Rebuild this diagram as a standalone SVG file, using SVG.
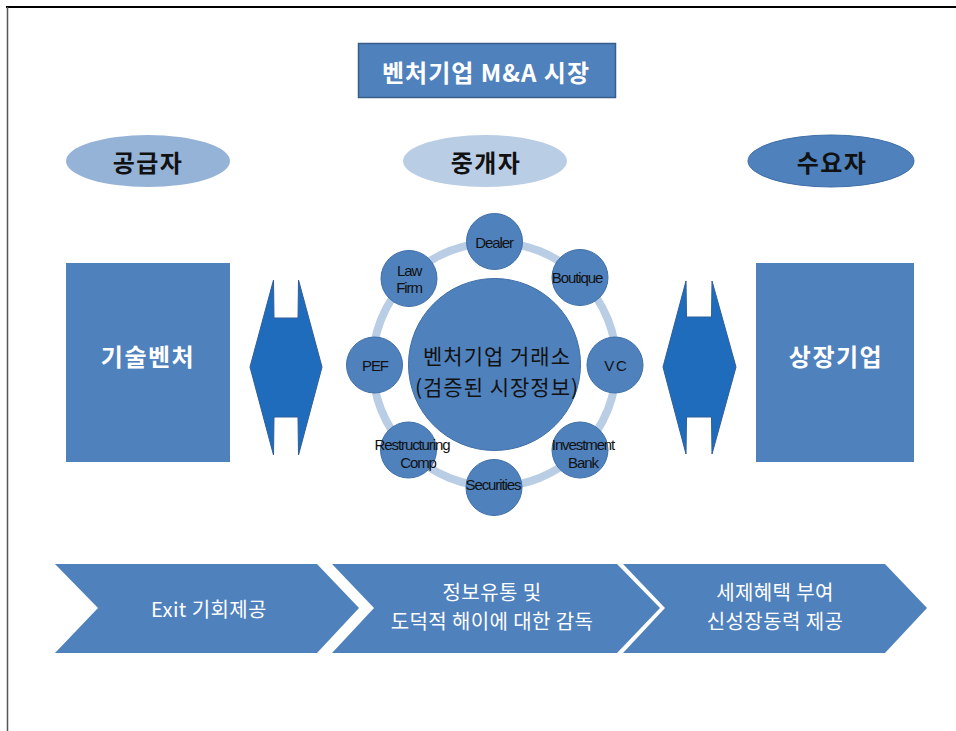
<svg xmlns="http://www.w3.org/2000/svg" width="956" height="731" viewBox="0 0 956 731">
<style>
.ko{font-family:"Noto Sans CJK KR","Noto Sans",sans-serif}
.w{fill:#ffffff}
.k{fill:#111111}
.hb{font-weight:bold;font-size:24px;letter-spacing:1.5px}
.blue{fill:#4F81BD;stroke:#3E6EA8;stroke-width:1}
.sm{font-family:"Liberation Sans",Arial,sans-serif;font-size:15px;letter-spacing:-1.1px;fill:#111}
.dbl{fill:#1F6CBC;stroke:#2E5E9A;stroke-width:1}
.chev{fill:#4F81BD}
.ct{font-size:20px;letter-spacing:0.4px}
</style>
<rect width="956" height="731" fill="#ffffff"/>
<line x1="6" y1="7" x2="956" y2="7" stroke="#000" stroke-width="2"/>
<line x1="7.5" y1="7" x2="7.5" y2="731" stroke="#555" stroke-width="1.5"/>

<g id="title">
<rect x="358.5" y="43.5" width="257" height="54" fill="#4F81BD" stroke="#385D8A" stroke-width="1.5"/>
<text x="486" y="71" class="ko w" font-size="24" font-weight="bold" text-anchor="middle" dominant-baseline="central" letter-spacing="1">벤처기업 M&amp;A 시장</text>
</g>

<g id="supplier-label">
<ellipse cx="148" cy="161" rx="82" ry="26" fill="#95B3D7"/>
<text x="148" y="161" class="ko k hb" text-anchor="middle" dominant-baseline="central">공급자</text>
</g>
<g id="broker-label">
<ellipse cx="485" cy="161" rx="82" ry="26" fill="#B9CDE5"/>
<text x="486" y="161" class="ko k hb" text-anchor="middle" dominant-baseline="central">중개자</text>
</g>
<g id="buyer-label">
<ellipse cx="831" cy="161" rx="83" ry="26" fill="#4F81BD" stroke="#3E6EA8" stroke-width="1"/>
<text x="832" y="161" class="ko k hb" text-anchor="middle" dominant-baseline="central">수요자</text>
</g>

<g id="tech-venture">
<rect x="66" y="263" width="164" height="199" fill="#4F81BD"/>
<text x="148" y="355" class="ko w hb" text-anchor="middle" dominant-baseline="central">기술벤처</text>
</g>
<g id="listed-company">
<rect x="756" y="263" width="158" height="199" fill="#4F81BD"/>
<text x="836" y="355" class="ko w hb" text-anchor="middle" dominant-baseline="central">상장기업</text>
</g>

<g id="connectors">
<circle cx="494.5" cy="364.5" r="122" fill="none" stroke="#B9CDE5" stroke-width="8"/>
<polygon class="dbl" points="273.5,280 274,318 298,318 298.5,280 322,367 298.5,455 298,417 274,417 273.5,455 250,367"/>
<polygon class="dbl" points="686,281 686.5,317 711.5,317 712,281 736,367 712,454 711.5,417 686.5,417 686,454 663,367"/>
</g>

<g id="exchange">
<circle cx="494.5" cy="364.5" r="86" class="blue"/>
<text x="497" y="355" class="ko k" font-size="21" letter-spacing="1" text-anchor="middle" dominant-baseline="central">벤처기업 거래소</text>
<text x="497" y="386" class="ko k" font-size="21" letter-spacing="1" text-anchor="middle" dominant-baseline="central">(검증된 시장정보)</text>
</g>

<g id="dealer">
<circle cx="494.5" cy="241.5" r="28" class="blue"/>
<text x="494" y="242" class="sm" text-anchor="middle" dominant-baseline="central">Dealer</text>
</g>
<g id="boutique">
<circle cx="580" cy="277.5" r="28" class="blue"/>
<text x="577" y="277" class="sm" text-anchor="middle" dominant-baseline="central">Boutique</text>
</g>
<g id="vc">
<circle cx="615" cy="365" r="28" class="blue"/>
<text x="615" y="365" class="sm" text-anchor="middle" dominant-baseline="central" letter-spacing="1.5">V C</text>
</g>
<g id="investment-bank">
<circle cx="580" cy="450" r="28" class="blue"/>
<text x="583" y="444" class="sm" text-anchor="middle" dominant-baseline="central">Investment</text>
<text x="583" y="462" class="sm" text-anchor="middle" dominant-baseline="central">Bank</text>
</g>
<g id="securities">
<circle cx="494" cy="487.5" r="28" class="blue"/>
<text x="493" y="484" class="sm" text-anchor="middle" dominant-baseline="central">Securities</text>
</g>
<g id="restructuring-comp">
<circle cx="408.5" cy="450" r="28" class="blue"/>
<text x="412" y="444" class="sm" text-anchor="middle" dominant-baseline="central">Restructuring</text>
<text x="418" y="462" class="sm" text-anchor="middle" dominant-baseline="central">Comp</text>
</g>
<g id="pef">
<circle cx="374.5" cy="365" r="28" class="blue"/>
<text x="375" y="365" class="sm" text-anchor="middle" dominant-baseline="central" letter-spacing="0">PEF</text>
</g>
<g id="law-firm">
<circle cx="409" cy="278.5" r="28" class="blue"/>
<text x="409" y="270" class="sm" text-anchor="middle" dominant-baseline="central">Law</text>
<text x="409" y="287" class="sm" text-anchor="middle" dominant-baseline="central">Firm</text>
</g>

<g id="step-exit">
<polygon class="chev" points="55,564 317,564 359,608 317,653 55,653 98,608"/>
<text x="209" y="608" class="ko w ct" text-anchor="middle" dominant-baseline="central">Exit 기회제공</text>
</g>
<g id="step-info">
<polygon class="chev" points="332,564 617,564 660,608 617,653 332,653 374,608"/>
<text x="492" y="591" class="ko w ct" text-anchor="middle" dominant-baseline="central">정보유통 및</text>
<text x="492" y="620" class="ko w ct" text-anchor="middle" dominant-baseline="central">도덕적 해이에 대한 감독</text>
</g>
<g id="step-tax">
<polygon class="chev" points="623,564 885,564 927,608 885,653 623,653 665,608"/>
<text x="775" y="591" class="ko w ct" text-anchor="middle" dominant-baseline="central">세제혜택 부여</text>
<text x="775" y="620" class="ko w ct" text-anchor="middle" dominant-baseline="central">신성장동력 제공</text>
</g>
</svg>
